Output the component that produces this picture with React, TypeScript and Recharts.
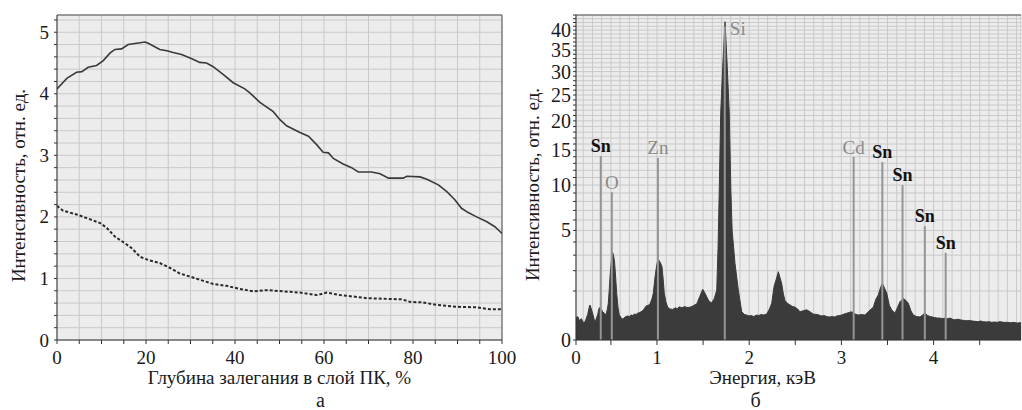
import React from 'react';
import { LineChart, Line, AreaChart, Area, XAxis, YAxis, CartesianGrid, ReferenceLine } from 'recharts';

const FONT = "'Liberation Serif', 'DejaVu Serif', serif";
const AXIS = '#333333';
const GRID = '#c9c9c9';
const PLOT_BG = '#ececec';
const TEXT = '#1a1a1a';
const PEAK_GRAY = '#8a8a8a';
const fontStyle = { fontFamily: FONT };

// ---------- panel а : intensity vs depth ----------
const depthSolid = [0, 2.2, 4.4, 5.6, 7.0, 8.9, 10.4, 11.9, 13.0, 14.5, 16.0, 17.9, 19.8, 20.5, 23.1, 24.7, 26.1, 28.0, 30.3, 32.1, 33.6, 35.1, 37.4, 39.6, 42.2, 43.4, 45.6, 48.6, 50.1, 51.6, 54.6, 56.5, 58.4, 59.8, 61.0, 62.1, 64.3, 66.2, 67.7, 70.7, 72.6, 74.5, 77.8, 78.6, 81.6, 83.1, 85.7, 87.6, 89.4, 90.9, 92.4, 94.3, 96.6, 98.4, 100];
const intensitySolid = [4.08, 4.25, 4.35, 4.36, 4.43, 4.46, 4.54, 4.66, 4.72, 4.73, 4.80, 4.82, 4.84, 4.82, 4.72, 4.70, 4.67, 4.64, 4.57, 4.51, 4.50, 4.44, 4.31, 4.18, 4.08, 4.01, 3.86, 3.71, 3.58, 3.48, 3.37, 3.31, 3.17, 3.05, 3.04, 2.95, 2.86, 2.80, 2.73, 2.73, 2.70, 2.63, 2.63, 2.66, 2.65, 2.61, 2.52, 2.41, 2.28, 2.14, 2.07, 2.00, 1.92, 1.84, 1.73];
const depthDashed = [0, 1.4, 4.4, 6.7, 9.7, 11.2, 13.0, 15.3, 16.8, 18.7, 20.5, 23.1, 25.4, 27.6, 29.9, 32.9, 35.1, 38.1, 41.1, 44.1, 47.1, 50.9, 54.6, 58.4, 60.6, 63.6, 67.3, 69.6, 73.3, 77.5, 79.3, 82.3, 85.3, 89.8, 94.3, 97.3, 100];
const intensityDashed = [2.18, 2.10, 2.04, 1.98, 1.90, 1.82, 1.68, 1.57, 1.49, 1.35, 1.30, 1.25, 1.17, 1.08, 1.03, 0.96, 0.91, 0.88, 0.83, 0.79, 0.81, 0.79, 0.77, 0.73, 0.77, 0.73, 0.70, 0.68, 0.67, 0.66, 0.62, 0.61, 0.57, 0.54, 0.53, 0.50, 0.50];

const leftXTicks = [0, 5, 10, 15, 20, 25, 30, 35, 40, 45, 50, 55, 60, 65, 70, 75, 80, 85, 90, 95, 100];
const leftXLabels = [0, 20, 40, 60, 80, 100];
const leftYTicks = [0, 0.2, 0.4, 0.6, 0.8, 1, 1.2, 1.4, 1.6, 1.8, 2, 2.2, 2.4, 2.6, 2.8, 3, 3.2, 3.4, 3.6, 3.8, 4, 4.2, 4.4, 4.6, 4.8, 5, 5.2];
const leftYLabels = [0, 1, 2, 3, 4, 5];
const leftYMax = 5.28;

// ---------- panel б : EDS spectrum ----------
const energy = [0.1215, 0.140, 0.157, 0.180, 0.200, 0.211, 0.230, 0.248, 0.262, 0.273, 0.288, 0.303, 0.318, 0.331, 0.345, 0.357, 0.370, 0.382, 0.396, 0.411, 0.430, 0.447, 0.462, 0.472, 0.483, 0.493, 0.507, 0.520, 0.531, 0.541, 0.552, 0.563, 0.577, 0.591, 0.610, 0.628, 0.645, 0.665, 0.682, 0.700, 0.720, 0.738, 0.754, 0.772, 0.790, 0.808, 0.826, 0.845, 0.860, 0.881, 0.905, 0.924, 0.945, 0.960, 0.975, 0.989, 1.003, 1.018, 1.036, 1.054, 1.066, 1.079, 1.097, 1.116, 1.140, 1.170, 1.200, 1.220, 1.242, 1.262, 1.280, 1.300, 1.314, 1.336, 1.358, 1.380, 1.400, 1.431, 1.465, 1.496, 1.515, 1.539, 1.565, 1.593, 1.620, 1.648, 1.662, 1.676, 1.691, 1.713, 1.738, 1.762, 1.784, 1.800, 1.815, 1.846, 1.882, 1.919, 1.950, 1.973, 2.000, 2.020, 2.050, 2.081, 2.105, 2.130, 2.160, 2.190, 2.220, 2.244, 2.270, 2.291, 2.316, 2.335, 2.352, 2.370, 2.388, 2.415, 2.443, 2.470, 2.497, 2.525, 2.551, 2.590, 2.624, 2.660, 2.695, 2.740, 2.786, 2.815, 2.840, 2.870, 2.895, 2.925, 2.950, 2.980, 3.003, 3.030, 3.060, 3.090, 3.112, 3.150, 3.183, 3.220, 3.256, 3.300, 3.346, 3.375, 3.400, 3.425, 3.444, 3.470, 3.492, 3.520, 3.545, 3.581, 3.610, 3.636, 3.671, 3.700, 3.726, 3.755, 3.780, 3.815, 3.853, 3.880, 3.907, 3.935, 3.961, 3.990, 4.010, 4.040, 4.070, 4.100, 4.120, 4.150, 4.178, 4.205, 4.230, 4.265, 4.300, 4.330, 4.359, 4.390, 4.420, 4.450, 4.480, 4.510, 4.539, 4.570, 4.600, 4.630, 4.660, 4.690, 4.720, 4.760, 4.800, 4.835, 4.870, 4.905, 4.948];
const counts = [0.20, 0.23, 0.16, 0.19, 0.13, 0.12, 0.18, 0.27, 0.42, 0.51, 0.40, 0.29, 0.18, 0.14, 0.21, 0.27, 0.41, 0.45, 0.39, 0.33, 0.30, 0.26, 0.40, 0.56, 1.10, 1.85, 2.70, 3.17, 2.90, 2.45, 1.60, 0.91, 0.45, 0.26, 0.21, 0.18, 0.21, 0.23, 0.24, 0.23, 0.26, 0.25, 0.28, 0.27, 0.30, 0.31, 0.33, 0.36, 0.40, 0.48, 0.50, 0.54, 0.70, 0.91, 1.50, 2.04, 2.50, 2.67, 2.50, 2.24, 1.60, 0.91, 0.60, 0.45, 0.40, 0.39, 0.43, 0.41, 0.46, 0.44, 0.44, 0.47, 0.45, 0.44, 0.45, 0.47, 0.50, 0.54, 0.80, 1.07, 0.95, 0.78, 0.62, 0.58, 0.70, 1.04, 3.50, 9.80, 21.5, 31.1, 42.2, 31.1, 21.5, 9.80, 5.00, 2.45, 1.04, 0.33, 0.27, 0.26, 0.24, 0.25, 0.23, 0.26, 0.25, 0.27, 0.26, 0.28, 0.40, 0.56, 1.20, 1.50, 1.94, 1.60, 1.34, 0.90, 0.65, 0.56, 0.51, 0.47, 0.45, 0.40, 0.33, 0.36, 0.38, 0.33, 0.28, 0.27, 0.24, 0.25, 0.23, 0.22, 0.23, 0.22, 0.24, 0.25, 0.26, 0.28, 0.30, 0.32, 0.33, 0.28, 0.26, 0.27, 0.26, 0.35, 0.45, 0.70, 0.84, 1.15, 1.34, 1.10, 0.91, 0.50, 0.38, 0.30, 0.45, 0.61, 0.72, 0.65, 0.56, 0.35, 0.26, 0.23, 0.22, 0.26, 0.30, 0.25, 0.23, 0.22, 0.21, 0.20, 0.20, 0.19, 0.20, 0.19, 0.20, 0.18, 0.17, 0.18, 0.165, 0.16, 0.155, 0.16, 0.15, 0.145, 0.14, 0.15, 0.14, 0.135, 0.14, 0.13, 0.135, 0.13, 0.14, 0.13, 0.13, 0.125, 0.13, 0.12, 0.125];

const rightXMin = 0.1215;
const rightXMax = 4.948;
const rightXTicks = [0.1215, 0.2, 0.3, 0.4, 0.5, 0.6, 0.7, 0.8, 0.9, 1, 1.1, 1.2, 1.3, 1.4, 1.5, 1.6, 1.7, 1.8, 1.9, 2, 2.1, 2.2, 2.3, 2.4, 2.5, 2.6, 2.7, 2.8, 2.9, 3, 3.1, 3.2, 3.3, 3.4, 3.5, 3.6, 3.7, 3.8, 3.9, 4, 4.1, 4.2, 4.3, 4.4, 4.5, 4.6, 4.7, 4.8, 4.9];
const rightXMarks = [0.1215, 0.5, 1, 1.5, 2, 2.5, 3, 3.5, 4, 4.5];
const rightXLabelAt = [0.1215, 1, 2, 3, 4];
const rightXLabelText = ['0', '1', '2', '3', '4'];
const rightYTicks = [0, 1, 2, 3, 4, 5, 6, 7, 8, 9, 10, 11, 12, 13, 14, 15, 16, 17, 18, 19, 20, 21, 22, 23, 24, 25, 26, 27, 28, 29, 30, 31, 32, 33, 34, 35, 36, 37, 38, 39, 40, 41, 42, 43, 44];
const rightYLabels = [0, 5, 10, 15, 20, 25, 30, 35, 40];
const rightYMax = 44;

const peakName = ['Sn', 'O', 'Zn', 'Si', 'Cd', 'Sn', 'Sn', 'Sn', 'Sn'];
const peakEnergy = [0.39, 0.51, 1.01, 1.735, 3.133, 3.444, 3.663, 3.905, 4.131];
const peakTop = [14.1, 9.1, 13.8, 41, 13.95, 13.2, 10.0, 5.4, 3.17];
const peakBold = [true, false, false, false, false, true, true, true, true];

const solidData = depthSolid.map((x, i) => ({ x, v: intensitySolid[i] }));
const dashedData = depthDashed.map((x, i) => ({ x, v: intensityDashed[i] }));
const spectrumData = energy.map((e, i) => ({ e, c: counts[i] }));

const idx = (arr: number[], v: number) => arr.findIndex((a) => Math.abs(a - v) < 1e-6);

const LeftXTick = (p: any) => {
  const { x, y, payload } = p;
  const show = idx(leftXLabels, payload.value) >= 0;
  return (
    <g>
      <line x1={x} y1={y} x2={x} y2={y + 4} stroke={AXIS} strokeWidth={1} />
      {show && (
        <text x={x} y={y + 17} textAnchor="middle" dominantBaseline="central" style={fontStyle} fontFamily={FONT} fontSize={19} fill={TEXT}>
          {payload.value}
        </text>
      )}
    </g>
  );
};

const LeftYTick = (p: any) => {
  const { x, y, payload } = p;
  const show = idx(leftYLabels, payload.value) >= 0;
  return (
    <g>
      <line x1={x - 3} y1={y} x2={x} y2={y} stroke={AXIS} strokeWidth={1} />
      {show && (
        <text x={x - 8} y={y} textAnchor="end" dominantBaseline="central" style={fontStyle} fontFamily={FONT} fontSize={19} fill={TEXT}>
          {Math.round(payload.value)}
        </text>
      )}
    </g>
  );
};

const RightXTick = (p: any) => {
  const { x, y, payload } = p;
  const mark = idx(rightXMarks, payload.value) >= 0;
  const li = idx(rightXLabelAt, payload.value);
  return (
    <g>
      {mark && <line x1={x} y1={y} x2={x} y2={y + 5} stroke={AXIS} strokeWidth={1} />}
      {li >= 0 && (
        <text x={x} y={y + 17} textAnchor="middle" dominantBaseline="central" style={fontStyle} fontFamily={FONT} fontSize={19} fill={TEXT}>
          {rightXLabelText[li]}
        </text>
      )}
    </g>
  );
};

const RightYTick = (p: any) => {
  const { x, y, payload } = p;
  const show = idx(rightYLabels, payload.value) >= 0;
  return (
    <g>
      <line x1={x - 3} y1={y} x2={x} y2={y} stroke={AXIS} strokeWidth={1} />
      {show && (
        <text x={x - 5} y={y} textAnchor="end" dominantBaseline="central" style={fontStyle} fontFamily={FONT} fontSize={20} fill={TEXT}>
          {payload.value}
        </text>
      )}
    </g>
  );
};

const LeftXLabel = (p: any) => {
  const vb = p.viewBox;
  return (
    <g>
      <text x={vb.x + vb.width / 2} y={vb.y + 37} textAnchor="middle" dominantBaseline="central" style={fontStyle} fontFamily={FONT} fontSize={19} fill={TEXT}>
        Глубина залегания в слой ПК, %
      </text>
      <text x={vb.x + vb.width / 2 + 41} y={vb.y + 67} textAnchor="middle" style={fontStyle} fontFamily={FONT} fontSize={20} fill={TEXT}>
        а
      </text>
    </g>
  );
};

const RightXLabel = (p: any) => {
  const vb = p.viewBox;
  return (
    <g>
      <text x={vb.x + vb.width / 2 - 36} y={vb.y + 37} textAnchor="middle" dominantBaseline="central" style={fontStyle} fontFamily={FONT} fontSize={19} fill={TEXT}>
        Энергия, кэВ
      </text>
      <text x={vb.x + vb.width / 2 - 43} y={vb.y + 67} textAnchor="middle" style={fontStyle} fontFamily={FONT} fontSize={20} fill={TEXT}>
        б
      </text>
    </g>
  );
};

const YLabel = (p: any) => {
  const vb = p.viewBox;
  const cx = vb.x + vb.width - p.dxFromPlot;
  const cy = vb.y + vb.height / 2 + p.dyCenter;
  return (
    <text
      x={cx}
      y={cy}
      textAnchor="middle"
      dominantBaseline="central"
      transform={`rotate(-90 ${cx} ${cy})`}
      style={fontStyle}
      fontFamily={FONT}
      fontSize={19}
      fill={TEXT}
    >
      Интенсивность, отн. ед.
    </text>
  );
};

const renderPeakLabel = (i: number) => (p: any) => {
  const vb = p.viewBox;
  if (!vb) return null;
  const bold = peakBold[i];
  const aside = peakName[i] === 'Si';
  const x = vb.x + (aside ? 13 : 0);
  const y = vb.y + (aside ? 2 : -10);
  return (
    <text
      x={x}
      y={y}
      textAnchor="middle"
      dominantBaseline="central"
      style={fontStyle}
      fontFamily={FONT}
      fontSize={bold ? 18 : 19}
      fontWeight={bold ? 'bold' : 'normal'}
      fill={bold ? '#111111' : PEAK_GRAY}
    >
      {peakName[i]}
    </text>
  );
};

export default function App() {
  return (
    <div style={{ position: 'absolute', left: 0, top: 0, width: 1022, height: 410, background: '#ffffff', fontFamily: FONT, overflow: 'hidden' }}>
      <div style={{ position: 'absolute', left: 0, top: 0 }}>
        <LineChart width={520} height={410} margin={{ top: 15, right: 18, bottom: 40, left: 17 }}>
          <CartesianGrid stroke={GRID} fill={PLOT_BG} fillOpacity={1} />
          <XAxis
            type="number"
            dataKey="x"
            domain={[0, 100]}
            ticks={leftXTicks}
            interval={0}
            allowDataOverflow
            tickSize={0}
            tickMargin={0}
            tickLine={false}
            tick={<LeftXTick />}
            axisLine={{ stroke: AXIS, strokeWidth: 1 }}
            height={30}
            label={<LeftXLabel />}
          />
          <YAxis
            type="number"
            domain={[0, leftYMax]}
            ticks={leftYTicks}
            interval={0}
            allowDataOverflow
            tickSize={0}
            tickMargin={0}
            tickLine={false}
            tick={<LeftYTick />}
            axisLine={{ stroke: AXIS, strokeWidth: 1 }}
            width={40}
            label={<YLabel dxFromPlot={39} dyCenter={8} />}
          />
          <ReferenceLine y={leftYMax} stroke="#555555" strokeWidth={1} />
          <ReferenceLine x={100} stroke="#555555" strokeWidth={1} />
          <Line data={solidData} dataKey="v" type="linear" stroke="#3a3a3a" strokeWidth={1.6} dot={false} activeDot={false} isAnimationActive={false} />
          <Line data={dashedData} dataKey="v" type="linear" stroke="#2a2a2a" strokeWidth={2} strokeDasharray="3 2" dot={false} activeDot={false} isAnimationActive={false} />
        </LineChart>
      </div>
      <div style={{ position: 'absolute', left: 510, top: 0 }}>
        <AreaChart width={512} height={410} data={spectrumData} margin={{ top: 15, right: 1, bottom: 40, left: 16 }}>
          <CartesianGrid stroke={GRID} fill={PLOT_BG} fillOpacity={1} />
          <XAxis
            type="number"
            dataKey="e"
            domain={[rightXMin, rightXMax]}
            ticks={rightXTicks}
            interval={0}
            allowDataOverflow
            tickSize={0}
            tickMargin={0}
            tickLine={false}
            tick={<RightXTick />}
            axisLine={{ stroke: AXIS, strokeWidth: 1 }}
            height={30}
            label={<RightXLabel />}
          />
          <YAxis
            type="number"
            scale="sqrt"
            domain={[0, rightYMax]}
            ticks={rightYTicks}
            interval={0}
            allowDataOverflow
            tickSize={0}
            tickMargin={0}
            tickLine={false}
            tick={<RightYTick />}
            axisLine={{ stroke: AXIS, strokeWidth: 1 }}
            width={50}
            label={<YLabel dxFromPlot={44} dyCenter={7} />}
          />
          <ReferenceLine y={rightYMax} stroke="#555555" strokeWidth={1} />
          <Area dataKey="c" type="linear" stroke="#3b3b3b" strokeWidth={1} fill="#3b3b3b" fillOpacity={1} dot={false} activeDot={false} isAnimationActive={false} />
          {peakEnergy.map((e, i) => (
            <ReferenceLine
              key={`pk-${i}`}
              segment={[
                { x: e, y: 0 },
                { x: e, y: peakTop[i] },
              ]}
              stroke="#959595"
              strokeWidth={2}
              label={renderPeakLabel(i)}
            />
          ))}
        </AreaChart>
      </div>
    </div>
  );
}
